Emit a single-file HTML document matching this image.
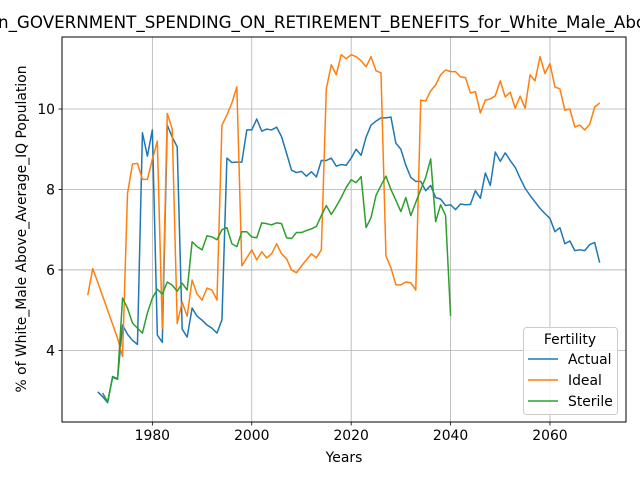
<!DOCTYPE html>
<html><head><meta charset="utf-8"><style>
body{margin:0;background:#fff}
svg{display:block;font-family:"DejaVu Sans","Liberation Sans",sans-serif}
</style></head><body>
<svg id="chart" width="640" height="480" xmlns="http://www.w3.org/2000/svg">
<text x="-2" y="28" font-size="16.7">n_GOVERNMENT_SPENDING_ON_RETIREMENT_BENEFITS_for_White_Male_Above_Average_IQ_Population</text>
<g id="grid"></g>
<g id="lines"></g>
<rect x="62" y="37" width="564" height="385" fill="none" stroke="#000" stroke-width="1"/>
<g id="ticks"></g>
<text x="344" y="462" font-size="13.9" text-anchor="middle">Years</text>
<text transform="translate(26,229) rotate(-90)" font-size="13.9" text-anchor="middle">% of White_Male Above_Average_IQ Population</text>
<g>
<rect x="523.5" y="327.5" width="94" height="87" rx="3" fill="#fff" fill-opacity="0.8" stroke="#ccc"/>
<text x="570" y="344" font-size="13.9" text-anchor="middle">Fertility</text>
<line x1="528" y1="359" x2="558" y2="359" stroke="#1f77b4" stroke-width="1.5"/>
<text x="568" y="364" font-size="13.9">Actual</text>
<line x1="528" y1="380" x2="558" y2="380" stroke="#ff7f0e" stroke-width="1.5"/>
<text x="568" y="385" font-size="13.9">Ideal</text>
<line x1="528" y1="401" x2="558" y2="401" stroke="#2ca02c" stroke-width="1.5"/>
<text x="568" y="406" font-size="13.9">Sterile</text>
</g>
</svg>
<script>
const xTicks = [1980, 2000, 2020, 2040, 2060];
const yTicks = [4, 6, 8, 10];
const actualStart = 1969;
const actualValues = [2.97,2.85,2.7,3.35,3.3,4.63,4.4,4.25,4.15,9.41,8.83,9.48,4.38,4.2,9.6,9.3,9.06,4.53,4.33,5.05,4.85,4.75,4.63,4.55,4.43,4.76,8.78,8.67,8.68,8.68,9.48,9.48,9.75,9.45,9.5,9.48,9.55,9.31,8.9,8.48,8.42,8.45,8.33,8.44,8.31,8.72,8.72,8.78,8.58,8.62,8.6,8.78,9.0,8.85,9.3,9.6,9.7,9.78,9.78,9.8,9.15,9.0,8.6,8.3,8.2,8.2,7.97,8.1,7.8,7.76,7.6,7.62,7.5,7.64,7.62,7.63,7.97,7.78,8.41,8.1,8.93,8.7,8.91,8.72,8.55,8.28,8.03,7.85,7.69,7.53,7.4,7.28,6.95,7.05,6.65,6.72,6.48,6.5,6.48,6.63,6.68,6.18];
const idealStart = 1967;
const idealValues = [5.37,6.03,5.7,5.35,5.0,4.65,4.3,3.85,7.9,8.63,8.65,8.25,8.25,8.75,9.2,4.55,9.89,9.5,4.67,5.2,4.85,5.75,5.4,5.25,5.55,5.5,5.25,9.6,9.85,10.15,10.55,6.1,6.3,6.5,6.25,6.45,6.3,6.4,6.65,6.4,6.28,6.0,5.93,6.1,6.25,6.4,6.3,6.5,10.5,11.1,10.85,11.35,11.25,11.35,11.3,11.2,11.05,11.3,10.95,10.9,6.35,6.05,5.63,5.63,5.7,5.68,5.5,10.22,10.2,10.45,10.6,10.85,10.97,10.93,10.93,10.8,10.78,10.4,10.43,9.9,10.22,10.25,10.33,10.7,10.3,10.42,10.02,10.32,10.02,10.85,10.7,11.3,10.88,11.13,10.55,10.5,9.97,10.0,9.55,9.6,9.48,9.62,10.05,10.15];
const sterileStart = 1970;
const sterileValues = [2.94,2.72,3.33,3.28,5.3,5.05,4.68,4.55,4.43,4.93,5.3,5.52,5.4,5.7,5.62,5.47,5.67,5.5,6.7,6.58,6.5,6.85,6.82,6.75,7.0,7.05,6.65,6.58,6.95,6.95,6.82,6.8,7.17,7.15,7.12,7.17,7.15,6.8,6.78,6.93,6.93,6.98,7.02,7.08,7.35,7.6,7.38,7.58,7.8,8.05,8.24,8.17,8.32,7.05,7.3,7.85,8.1,8.33,8.0,7.73,7.45,7.8,7.35,7.68,8.0,8.3,8.76,7.2,7.62,7.35,4.86];

const L=62,R=626,T=37,B=422, X0=1961.82, X1=2075.3, Y0=2.22, Y1=11.79;
function xs(v){return L+(v-X0)/(X1-X0)*(R-L);}
function ys(v){return B-(v-Y0)/(Y1-Y0)*(B-T);}
const NS="http://www.w3.org/2000/svg";
const grid=document.getElementById('grid'), ticks=document.getElementById('ticks'), lines=document.getElementById('lines');
function mk(tag,attrs,parent){const e=document.createElementNS(NS,tag);for(const k in attrs)e.setAttribute(k,attrs[k]);parent.appendChild(e);return e;}
xTicks.forEach(t=>{
  const x=xs(t);
  const g=mk('line',{x1:x,x2:x,y1:T,y2:B,stroke:'#b0b0b0','stroke-width':0.8},grid);
  
  
  const tk=mk('line',{x1:x,x2:x,y1:B,y2:B+3.5,stroke:'#000','stroke-width':0.8},ticks);
  
  
  const tx=mk('text',{x:x,y:B+18,'font-size':13.9,'text-anchor':'middle'},ticks);
  tx.textContent=t;
  
  
});
yTicks.forEach(t=>{
  const y=ys(t);
  const g=mk('line',{x1:L,x2:R,y1:y,y2:y,stroke:'#b0b0b0','stroke-width':0.8},grid);
  
  
  const tk=mk('line',{x1:L-3.5,x2:L,y1:y,y2:y,stroke:'#000','stroke-width':0.8},ticks);
  
  
  const tx=mk('text',{x:L-7,y:y+5,'font-size':13.9,'text-anchor':'end'},ticks);
  tx.textContent=t;
  
  
});
function draw(start,vals,color,name){
  const d=vals.map((v,i)=>(i?'L':'M')+xs(start+i).toFixed(2)+' '+ys(v).toFixed(2)).join(' ');
  const p=mk('path',{d:d,fill:'none',stroke:color,'stroke-width':1.5,'stroke-linejoin':'round'},lines);
  
  
}
draw(actualStart,actualValues,'#1f77b4','actual-line');
draw(idealStart,idealValues,'#ff7f0e','ideal-line');
draw(sterileStart,sterileValues,'#2ca02c','sterile-line');
</script>
</body></html>
